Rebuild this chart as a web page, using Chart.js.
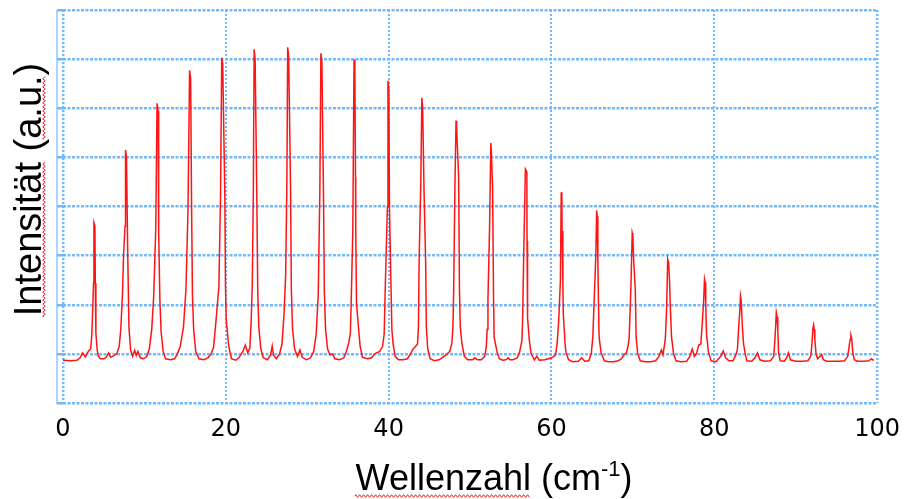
<!DOCTYPE html>
<html>
<head>
<meta charset="utf-8">
<script src="https://cdn.jsdelivr.net/npm/chart.js@4.4.1/dist/chart.umd.min.js"></script>
<style>
  html, body { margin: 0; padding: 0; background: #ffffff; }
  canvas { display: block; }
</style>
</head>
<body>
<canvas id="c" width="912" height="499"></canvas>
<script>
// ---- data ----
const xTickValues = [0, 20, 40, 60, 80, 100];
const xTitleMain = "Wellenzahl (cm";
const xTitleSup = "-1";
const xTitleEnd = ")";
const yTitle = "Intensität (a.u.)";

const wavenumber = [
  0, 1.0, 1.7, 2.1, 2.4, 2.75, 3.1, 3.4, 3.55, 3.75, 3.8, 3.92, 3.97, 4.04, 4.2, 4.35, 4.6, 5.0, 5.3, 5.6, 5.85, 6.2, 6.6, 6.9, 7.1, 7.3,
  7.45, 7.62, 7.68, 7.8, 7.95, 8.1, 8.3, 8.55, 8.8, 9.0, 9.2, 9.5, 9.9, 10.3, 10.6, 10.9, 11.15,
  11.4, 11.55, 11.68, 11.75, 11.9, 12.05, 12.3, 12.6, 13.2, 13.7, 14.0, 14.4, 14.8, 15.1,
  15.35, 15.55, 15.68, 15.8, 15.9, 16.05, 16.3, 16.7, 17.3, 17.8, 18.2, 18.5, 18.8, 19.15, 19.35,
  19.5, 19.62, 19.88, 19.96, 20.05, 20.37, 20.7, 21.2, 21.6, 22.1, 22.4, 22.7, 22.95, 23.1, 23.25, 23.38,
  23.48, 23.6, 23.8, 23.92, 24.05, 24.3, 24.6, 25.1, 25.5, 25.7, 25.85, 26.2, 26.6, 26.9, 27.15, 27.35, 27.5,
  27.6, 27.72, 27.95, 28.05, 28.2, 28.45, 28.8, 29.1, 29.4, 29.9, 30.4, 30.8, 31.1, 31.35, 31.55,
  31.68, 31.8, 32.0, 32.1, 32.25, 32.5, 32.8, 33.1, 33.4, 34.0, 34.5, 34.8, 35.1, 35.3, 35.4, 35.6,
  35.75, 35.85, 35.93, 35.96, 36.05, 36.35, 36.5, 36.8, 37.4, 37.9, 38.3, 38.9, 39.25, 39.45, 39.6, 39.85,
  39.92, 40.02, 40.1, 40.28, 40.4, 40.55, 40.8, 41.2, 41.8, 42.3, 42.7, 43.0, 43.3, 43.55, 43.66, 43.74, 43.95,
  44.08, 44.18, 44.35, 44.55, 44.63, 44.8, 45.1, 45.6, 46.2, 46.8, 47.2, 47.5, 47.77, 47.9, 47.99, 48.15,
  48.28, 48.35, 48.6, 48.7, 48.8, 49.0, 49.3, 49.7, 50.3, 50.6, 50.9, 51.4, 51.8, 52.0, 52.1, 52.2, 52.4,
  52.55, 52.62, 52.77, 52.89, 52.96, 53.3, 53.6, 54.0, 54.4, 54.7, 54.9, 55.3, 55.8, 56.1, 56.38, 56.46, 56.62,
  56.8, 56.98, 57.0, 57.03, 57.1, 57.28, 57.5, 57.9, 58.2, 58.5, 59.2, 59.6, 60.0, 60.3, 60.5, 60.7, 60.9, 61.1,
  61.2, 61.28, 61.3, 61.4, 61.45, 61.7, 61.8, 62.1, 62.6, 63.3, 63.7, 64.1, 64.6, 64.9, 65.08, 65.28, 65.45,
  65.55, 65.62, 65.7, 65.78, 65.85, 66.1, 66.5, 67.0, 67.6, 68.2, 68.6, 68.9, 69.2, 69.4, 69.55, 69.76,
  69.92, 70.0, 70.1, 70.3, 70.4, 70.6, 70.9, 71.5, 72.2, 72.8, 73.2, 73.5, 73.7, 73.9, 74.0, 74.15,
  74.28, 74.4, 74.5, 74.6, 74.75, 75.0, 75.3, 75.9, 76.6, 77.0, 77.3, 77.55, 77.8, 78.1, 78.35, 78.55, 78.7,
  78.8, 78.88, 78.95, 79.05, 79.27, 79.6, 80.2, 80.8, 81.1, 81.4, 81.8, 82.3, 82.7, 82.85, 83.0, 83.15,
  83.22, 83.3, 83.45, 83.6, 83.8, 84.0, 84.6, 85.0, 85.3, 85.6, 86.2, 86.9, 87.3, 87.45, 87.55,
  87.62, 87.72, 87.8, 87.9, 88.1, 88.6, 88.9, 89.1, 89.35, 90.0, 90.8, 91.5, 91.85, 92.0, 92.1,
  92.2, 92.28, 92.35, 92.5, 92.7, 93.0, 93.2, 93.4, 93.8, 94.6, 95.4, 96.0, 96.4, 96.6, 96.7,
  96.78, 96.88, 97.0, 97.2, 97.6, 98.4, 99.0, 99.3, 99.45, 99.6
];
const intensity = [
  0.87, 0.86, 0.87, 0.92, 1.02, 0.94, 1.05, 1.1, 1.42, 2.44, 3.67, 3.6, 2.44, 1.42, 1.08, 0.95, 0.9, 0.9, 0.93, 1.02, 0.93, 0.96, 1.0, 1.15, 1.5, 2.2,
  3.05, 3.6, 5.15, 5.0, 3.05, 1.55, 1.08, 0.95, 1.07, 0.97, 1.05, 0.92, 0.9, 0.95, 1.1, 1.5, 2.2,
  3.6, 6.1, 5.95, 3.5, 2.1, 1.45, 1.05, 0.9, 0.88, 0.9, 0.98, 1.15, 1.55, 2.3,
  3.9, 6.77, 6.6, 3.9, 2.2, 1.5, 1.05, 0.9, 0.88, 0.92, 1.0, 1.14, 1.69, 2.36, 4.2,
  7.03, 6.9, 4.2, 2.36, 1.69, 1.14, 0.9, 0.87, 0.92, 1.05, 1.18, 1.02, 1.12, 1.6, 2.4, 4.3,
  7.2, 7.0, 4.3, 2.3, 1.55, 1.1, 0.92, 0.88, 0.98, 1.16, 0.98, 0.9, 1.0, 1.2, 1.8, 2.6, 4.5,
  7.24, 7.05, 4.4, 2.3, 1.5, 1.1, 0.95, 1.08, 0.93, 0.88, 0.92, 1.05, 1.4, 2.2, 4.3,
  7.12, 6.95, 4.2, 2.3, 1.5, 1.1, 0.98, 1.0, 0.9, 0.88, 0.92, 1.05, 1.22, 1.43, 2.04, 3.52,
  6.99, 6.8, 4.6, 3.52, 2.04, 1.43, 1.15, 0.93, 0.9, 0.92, 1.0, 1.05, 1.15, 1.4, 2.44, 4.0,
  6.56, 6.4, 4.0, 2.44, 1.49, 1.2, 0.95, 0.88, 0.88, 0.9, 1.0, 1.1, 1.15, 1.2, 1.55, 2.85, 4.5,
  6.21, 6.0, 4.3, 2.85, 1.55, 1.1, 0.9, 0.86, 0.88, 0.95, 1.0, 1.05, 1.22, 1.55, 2.3, 4.5,
  5.75, 5.6, 4.6, 2.3, 1.55, 1.22, 0.95, 0.88, 0.88, 0.92, 0.88, 0.88, 0.95, 1.15, 1.5, 2.1, 3.6,
  5.29, 5.1, 4.4, 2.1, 1.34, 1.05, 0.9, 0.87, 0.88, 0.92, 0.88, 0.88, 0.92, 1.05, 1.28, 1.73, 3.28,
  4.76, 4.7, 3.3, 2.7, 1.73, 1.28, 1.0, 0.88, 0.95, 0.87, 0.88, 0.9, 0.92, 0.95, 0.98, 1.22, 1.7, 2.5,
  4.29, 4.1, 3.5, 2.5, 1.83, 1.14, 1.02, 0.88, 0.84, 0.85, 0.92, 0.85, 0.86, 1.02, 1.34, 2.24, 3.0,
  3.92, 3.8, 2.9, 2.0, 1.34, 1.02, 0.86, 0.84, 0.84, 0.86, 0.9, 0.98, 1.02, 1.15, 1.34, 2.36,
  3.46, 3.4, 2.9, 2.3, 1.34, 1.0, 0.86, 0.84, 0.84, 0.86, 0.95, 1.08, 0.98, 1.2, 1.34, 1.95,
  2.93, 2.85, 2.5, 1.95, 1.34, 1.0, 0.86, 0.84, 0.85, 0.95, 1.1, 0.95, 1.0, 1.18, 1.2, 1.7, 2.1,
  2.52, 2.45, 2.0, 1.4, 1.05, 0.86, 0.84, 0.95, 1.06, 0.92, 0.86, 0.86, 1.0, 1.1, 1.55, 1.9,
  2.18, 2.1, 1.55, 1.2, 1.0, 0.86, 0.85, 0.92, 1.02, 0.88, 0.85, 0.86, 0.95, 1.3, 1.6,
  1.84, 1.75, 1.5, 1.02, 0.86, 0.85, 0.92, 1.02, 0.88, 0.85, 0.85, 0.86, 0.95, 1.2, 1.5,
  1.59, 1.5, 1.3, 1.0, 0.9, 0.95, 0.98, 0.88, 0.85, 0.85, 0.85, 0.86, 0.95, 1.2, 1.3,
  1.38, 1.32, 1.05, 0.88, 0.85, 0.85, 0.86, 0.9, 0.88, 0.87
];

// ---- styles ----
const gridBlue = 'rgba(105, 182, 255, 0.95)';
const lineRed = '#ff1414';

const points = wavenumber.map((x, i) => ({ x: x, y: intensity[i] }));

function wavy(ctx, x0, x1, y, amp, period) {
  ctx.beginPath();
  let up = true;
  ctx.moveTo(x0, y);
  for (let x = x0; x <= x1; x += period / 2) {
    ctx.lineTo(x, y + (up ? -amp : amp));
    up = !up;
  }
  ctx.stroke();
}

const decorations = {
  id: 'decorations',
  afterDraw(chart) {
    const ctx = chart.ctx;
    const a = chart.chartArea;
    ctx.save();
    // solid y-axis line just left of the plot
    ctx.strokeStyle = gridBlue;
    ctx.lineWidth = 1.2;
    ctx.beginPath();
    ctx.moveTo(a.left - 6, a.top);
    ctx.lineTo(a.left - 6, a.bottom + 1);
    ctx.stroke();

    // x title with superscript
    ctx.fillStyle = '#000';
    ctx.textBaseline = 'alphabetic';
    ctx.textAlign = 'left';
    const bigFont = '36px "Liberation Sans", Arial, sans-serif';
    const supFont = '22px "Liberation Sans", Arial, sans-serif';
    ctx.font = bigFont;
    const w1 = ctx.measureText(xTitleMain).width;
    const w3 = ctx.measureText(xTitleEnd).width;
    const wWord = ctx.measureText('Wellenzahl').width;
    ctx.font = supFont;
    const w2 = ctx.measureText(xTitleSup).width;
    const total = w1 + w2 + w3;
    const cx = (a.left + a.right) / 2 + 24;
    const base = 490;
    let x = cx - total / 2;
    ctx.font = bigFont;
    ctx.fillText(xTitleMain, x, base);
    ctx.font = supFont;
    ctx.fillText(xTitleSup, x + w1, base - 14);
    ctx.font = bigFont;
    ctx.fillText(xTitleEnd, x + w1 + w2, base);
    ctx.strokeStyle = '#e8201c';
    ctx.lineWidth = 1;
    wavy(ctx, x, x + wWord, base + 6, 1.3, 4);

    // y title, rotated
    ctx.save();
    ctx.translate(41, (a.top + a.bottom) / 2 - 17);
    ctx.rotate(-Math.PI / 2);
    ctx.font = '38px "Liberation Sans", Arial, sans-serif';
    ctx.textAlign = 'left';
    const wy = ctx.measureText(yTitle).width;
    const sx = -wy / 2;
    ctx.fillText(yTitle, sx, 0);
    const wInt = ctx.measureText('Intensität').width;
    const wPre = ctx.measureText('Intensität (').width;
    const wAu = ctx.measureText('a.u.').width;
    ctx.strokeStyle = '#e8201c';
    wavy(ctx, sx, sx + wInt, 3, 1.3, 4);
    wavy(ctx, sx + wPre, sx + wPre + wAu, 3, 1.3, 4);
    ctx.restore();
    ctx.restore();
  }
};

new Chart(document.getElementById('c'), {
  type: 'line',
  data: {
    datasets: [{
      data: points,
      borderColor: lineRed,
      borderWidth: 1.5,
      pointRadius: 0,
      tension: 0,
      fill: false
    }]
  },
  options: {
    responsive: false,
    animation: false,
    devicePixelRatio: 1,
    layout: { padding: { top: 10, right: 29, left: 0, bottom: 0 } },
    plugins: { legend: { display: false }, tooltip: { enabled: false }, title: { display: false } },
    scales: {
      x: {
        type: 'linear',
        min: 0, max: 100,
        afterBuildTicks: (s) => { s.ticks = xTickValues.map(v => ({ value: v })); },
        afterFit: (s) => { s.height = 96; },
        ticks: {
          color: '#000',
          font: { family: '"DejaVu Sans", sans-serif', size: 24 },
          padding: 12,
          maxRotation: 0,
          autoSkip: false
        },
        grid: {
          color: gridBlue,
          lineWidth: (c) => (c.index === 0 || c.index === 5) ? 2.5 : 2,
          drawTicks: false
        },
        border: { display: false, dash: [2, 2] }
      },
      y: {
        type: 'linear',
        min: 0, max: 8,
        ticks: { display: false, stepSize: 1 },
        afterFit: (s) => { s.width = 63; },
        grid: {
          color: gridBlue,
          lineWidth: 2.5,
          drawTicks: true,
          tickLength: 6
        },
        border: { display: false, dash: [3, 1.5] }
      }
    }
  },
  plugins: [decorations]
});
</script>
</body>
</html>
